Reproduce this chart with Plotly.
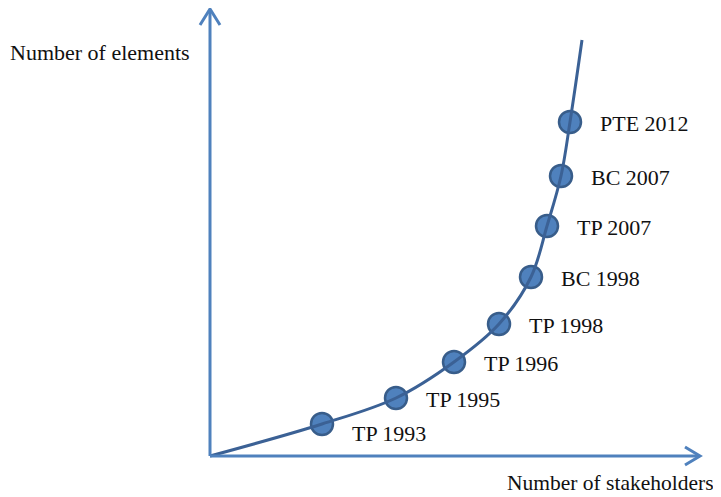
import plotly.graph_objects as go

# Conceptual data (stakeholders vs elements, arbitrary units)
labels = ["TP 1993", "TP 1995", "TP 1996", "TP 1998", "BC 1998", "TP 2007", "BC 2007", "PTE 2012"]
stakeholders = [112, 186, 244, 289, 321, 337, 351, 360]
elements = [32, 58, 94, 132, 179, 230, 280, 334]
# curve passes through origin, the milestones, and continues upward
curve_x = [0] + stakeholders + [372]
curve_y = [0] + elements + [416]

axis_color = "#4f81bd"
line_color = "#3b6195"
fill_color = "#4f81bd"
edge_color = "#385d8a"
font = dict(family="Liberation Serif, Times New Roman, serif", size=22, color="#111111")
font_small = dict(family="Liberation Serif, Times New Roman, serif", size=21.5, color="#111111")

fig = go.Figure()
fig.add_trace(go.Scatter(x=stakeholders, y=elements, mode="markers",
                         marker=dict(size=22, color=fill_color, line=dict(color=edge_color, width=2.5)),
                         hoverinfo="skip", showlegend=False))
fig.add_trace(go.Scatter(x=curve_x, y=curve_y, mode="lines",
                         line=dict(color=line_color, width=3, shape="spline", smoothing=1.0),
                         hoverinfo="skip", showlegend=False))

# axes with arrows
shapes = [
    dict(type="line", x0=0, y0=0, x1=0, y1=446, line=dict(color=axis_color, width=3)),
    dict(type="path", path="M -10,431 L 0,447 L 10,431", line=dict(color=axis_color, width=3)),
    dict(type="line", x0=0, y0=0, x1=489, y1=0, line=dict(color=axis_color, width=3)),
    dict(type="path", path="M 475,9 L 490,0 L 475,-9", line=dict(color=axis_color, width=3)),
]

annotations = []
for i, (lab, xv, yv) in enumerate(zip(labels, stakeholders, elements)):
    annotations.append(dict(x=xv, y=yv, text=lab, showarrow=False, xanchor="left",
                            xshift=28, yshift=(-9 if i == 0 else -1), font=font))
annotations.append(dict(x=-202, y=404, text="Number of elements", showarrow=False,
                        xanchor="left", font=font))
annotations.append(dict(x=506, y=0, xref="x", yref="paper", text="Number of stakeholders",
                        showarrow=False, xanchor="right", yanchor="bottom", yshift=0,
                        font=font_small))

# the page body adds an 8px margin, so the figure is 8px smaller and the ranges shifted
fig.update_layout(
    width=713, height=489,
    margin=dict(l=0, r=0, t=0, b=0),
    paper_bgcolor="white", plot_bgcolor="white",
    xaxis=dict(range=[-202, 511], visible=False, fixedrange=True),
    yaxis=dict(range=[-41, 448], visible=False, fixedrange=True),
    shapes=shapes, annotations=annotations,
)

fig.write_html("out.html")
